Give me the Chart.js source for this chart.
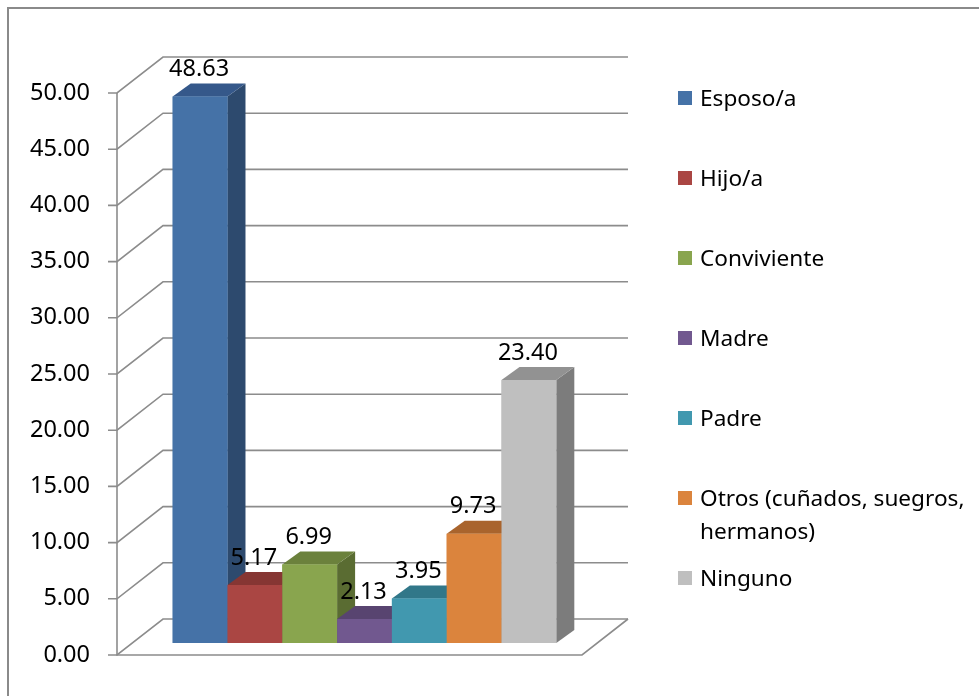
<!DOCTYPE html>
<html>
<head>
<meta charset="utf-8">
<script src="https://cdn.jsdelivr.net/npm/chart.js@4.4.0/dist/chart.umd.min.js"></script>
<style>
  html, body { margin: 0; padding: 0; background: #fff; }
  #wrap { position: relative; width: 979px; height: 696px; overflow: hidden; }
  #frame { position: absolute; left: 7px; top: 7px; width: 1100px; height: 1100px; border: 2px solid #8a8a8a; box-sizing: border-box; }
  #chart { position: absolute; left: 0; top: 0; }
  #legend { position: absolute; left: 678px; top: 0; font-family: "Noto Sans", sans-serif; font-size: 22.6px; color: #000; }
  .box { position: absolute; left: 0; width: 14px; height: 14px; }
  .txt { position: absolute; left: 22px; width: 285px; line-height: 33px; white-space: normal; }
</style>
</head>
<body>
<div id="wrap">
  <div id="frame"></div>
  <canvas id="chart" width="979" height="696"></canvas>
  <div id="legend"></div>
</div>
<script>
// Data
const categories = ["Esposo/a", "Hijo/a", "Conviviente", "Madre", "Padre", "Otros (cuñados, suegros, hermanos)", "Ninguno"];
const values = [48.63, 5.17, 6.99, 2.13, 3.95, 9.73, 23.40];
const yMin = 0;
const yMax = 50;
const yStep = 5;

// Colours: front, top, side
const frontColors = ["#4572A7", "#AA4643", "#89A54E", "#71588F", "#4198AF", "#DB843D", "#BFBFBF"];
const topColors = ["#35588A", "#863633", "#6B813C", "#584470", "#317789", "#A9642D", "#929292"];
const sideColors = ["#2D4A6E", "#712D2B", "#5A6C32", "#4A395E", "#296473", "#8F5526", "#7C7C7C"];
const gridColor = "#8c8c8c";

// 3D look (pixels)
const depth = { dx: 18, dy: -13 };      // bar depth
const front = { dx: -15, dy: 12 };      // axis plane vs bar plane
const back = { dx: 31, dy: -24 };       // back wall vs bar plane

const font = "Noto Sans";
const fontSize = 23.5;

// walls, grid, floor and axis
const walls = {
    id: "walls",
    beforeDatasetsDraw(chart) {
        const { ctx, chartArea: a, scales: { y } } = chart;
        ctx.save();
        ctx.strokeStyle = gridColor;
        ctx.lineWidth = 1.6;
        y.ticks.forEach(t => {
            const py = y.getPixelForValue(t.value);
            const fx = a.left + front.dx, fy = py + front.dy;
            const bx = a.left + back.dx, by = py + back.dy;
            ctx.beginPath();
            ctx.moveTo(fx - 9, fy);
            ctx.lineTo(fx, fy);
            ctx.lineTo(bx, by);
            ctx.lineTo(a.right + back.dx, by);
            ctx.stroke();
        });
        const top = y.getPixelForValue(yMax);
        const base = y.getPixelForValue(yMin);
        // axis line
        ctx.beginPath();
        ctx.moveTo(a.left + front.dx, top + front.dy);
        ctx.lineTo(a.left + front.dx, base + front.dy);
        // floor
        ctx.lineTo(a.right + front.dx, base + front.dy);
        ctx.lineTo(a.right + back.dx, base + back.dy);
        ctx.stroke();
        ctx.restore();
    }
};

// bars in 3D + value labels
const bars3d = {
    id: "bars3d",
    afterDatasetsDraw(chart) {
        const ctx = chart.ctx;
        const poly = (pts, color) => {
            ctx.fillStyle = color;
            ctx.beginPath();
            ctx.moveTo(pts[0][0], pts[0][1]);
            pts.slice(1).forEach(p => ctx.lineTo(p[0], p[1]));
            ctx.closePath();
            ctx.fill();
        };
        ctx.save();
        const labels = [];
        chart.data.datasets.forEach((ds, i) => {
            chart.getDatasetMeta(i).data.forEach((bar, j) => {
                const { x, y, base, width } = bar.getProps(["x", "y", "base", "width"], true);
                const l = x - width / 2, r = x + width / 2;
                poly([[r, y], [r + depth.dx, y + depth.dy], [r + depth.dx, base + depth.dy], [r, base]], sideColors[i]);
                poly([[l, y], [l + depth.dx, y + depth.dy], [r + depth.dx, y + depth.dy], [r, y]], topColors[i]);
                poly([[l, y], [r, y], [r, base], [l, base]], frontColors[i]);
                labels.push([ds.data[j].toFixed(2), x - 1, y - 27]);
            });
        });
        ctx.fillStyle = "#000";
        ctx.font = fontSize + "px '" + font + "'";
        ctx.textAlign = "center";
        ctx.textBaseline = "middle";
        labels.forEach(([t, x, y]) => ctx.fillText(t, x, y));
        ctx.restore();
    }
};

const chart = new Chart(document.getElementById("chart").getContext("2d"), {
    type: "bar",
    data: {
        labels: [""],
        datasets: categories.map((c, i) => ({
            label: c,
            data: [values[i]],
            backgroundColor: frontColors[i],
            borderWidth: 0
        }))
    },
    options: {
        responsive: false,
        animation: false,
        categoryPercentage: 0.825,
        barPercentage: 1,
        layout: { padding: { left: 0, right: 382, top: 81, bottom: 53 } },
        plugins: { legend: { display: false }, tooltip: { enabled: false } },
        scales: {
            x: { display: false },
            y: {
                min: yMin,
                max: yMax,
                grid: { display: false, drawTicks: false },
                border: { display: false },
                ticks: {
                    stepSize: yStep,
                    padding: 42,
                    labelOffset: 12,
                    color: "#000",
                    font: { family: font, size: fontSize },
                    callback: v => v.toFixed(2)
                },
                afterFit: s => { s.width = 132; s.paddingTop = 0; s.paddingBottom = 0; }
            }
        }
    },
    plugins: [walls, bars3d]
});

// Legend (HTML so the long label can wrap)
const legend = document.getElementById("legend");
categories.forEach((c, i) => {
    const cy = 98 + 80 * i;
    const box = document.createElement("div");
    box.className = "box";
    box.style.top = (cy - 7) + "px";
    box.style.background = frontColors[i];
    const txt = document.createElement("div");
    txt.className = "txt";
    txt.style.top = (cy - 17) + "px";
    txt.innerText = c;
    legend.appendChild(box);
    legend.appendChild(txt);
});
</script>
</body>
</html>
